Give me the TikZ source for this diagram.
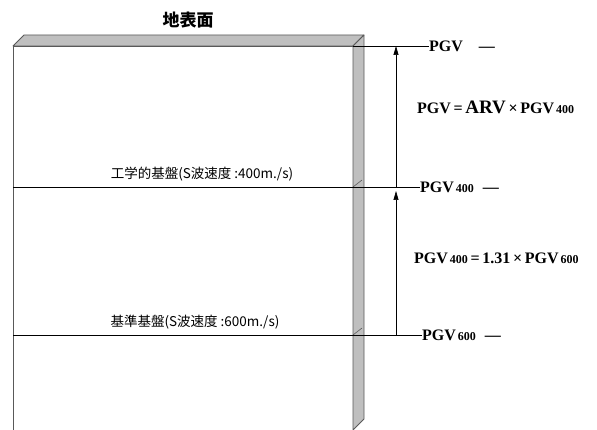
\documentclass[tikz,border=0pt]{standalone}
\usepackage{fontspec}
\setmainfont{Liberation Serif}
\newfontfamily\jpfont{Noto Sans CJK JP}
\usetikzlibrary{arrows.meta}
\newcommand{\lowidx}[1]{{\fontsize{12}{12}\selectfont\,#1}}

\begin{document}
\begin{tikzpicture}[x=1pt,y=-1pt,
  slab/.style = {fill=black!25, draw=black!65, line width=0.8pt, line join=round},
  front/.style = {fill=white, draw=black!65, line width=0.8pt},
  level/.style = {draw=black, line width=0.6pt},
  rise/.style = {draw=black, line width=0.6pt, -{Triangle[length=9pt,width=5pt]}},
  pgv/.style = {anchor=west, inner sep=0pt, font=\bfseries\fontsize{16}{16}\selectfont},
  layer/.style = {inner sep=0pt, font=\jpfont\fontsize{13.5}{13.5}\selectfont}]
\useasboundingbox (0,0) rectangle (597,430);

% ground block
\draw[front] (13,46) rectangle (353,430);
\draw[slab] (13,46) -- (24,35) -- (364,35) -- (353,46) -- cycle;
\draw[slab] (353,46) -- (364,35) -- (364,419) -- (353,430) -- cycle;
\draw[black!65, line width=0.6pt] (353,187) -- (362,180);
\draw[black!65, line width=0.6pt] (353,335) -- (362,328);

\node[inner sep=0pt, font=\jpfont\bfseries\fontsize{17}{17}\selectfont] (surf) at (188,20) {地表面};
\node[layer] (eng) at (202,174) {工学的基盤(S波速度 :400m./s)};
\node[layer] (base) at (195,322) {基準基盤(S波速度 :600m./s)};

\coordinate (top) at (353,46);
\coordinate (l400) at (13,187);
\coordinate (l600) at (13,335);
\node[pgv] (p0) at (429,46) {PGV\hspace{16pt}\textemdash};
\node[pgv] (p400) at (420,187) {PGV\lowidx{400}\hspace{9pt}\textemdash};
\node[pgv] (p600) at (422,335) {PGV\lowidx{600}\hspace{9pt}\textemdash};

\draw[level] (top) -- (p0.west);
\draw[level] (l400) -- (p400.west);
\draw[level] (l600) -- (p600.west);

\coordinate (a1) at (396,187);
\coordinate (a1t) at (396,46);
\coordinate (a2) at (396,335);
\coordinate (a2t) at (396,191);
\draw[rise] (a1) -- (a1t);
\draw[rise] (a2) -- (a2t);

\node[pgv] (eq1) at (417,107) {PGV\,=\,{\fontsize{19}{19}\selectfont ARV}\,×\,PGV\lowidx{400}};
\node[pgv] (eq2) at (414,258) {PGV\lowidx{400}\,=\,1.31\,×\,PGV\lowidx{600}};
\end{tikzpicture}
\end{document}
